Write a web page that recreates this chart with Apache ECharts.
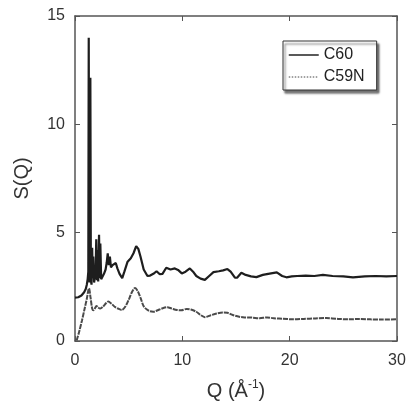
<!DOCTYPE html>
<html>
<head>
<meta charset="utf-8">
<script src="https://cdn.jsdelivr.net/npm/echarts@6/dist/echarts.min.js"></script>
<style>
  html, body { margin: 0; padding: 0; background: #fff; }
  #chart { width: 407px; height: 403px; }
</style>
</head>
<body>
<div id="chart"></div>
<script>
// Structure factor S(Q) of C60 and C59N
const seriesNames = ['C60', 'C59N'];

const c60Points = [
  [0, 2.0], [0.3, 2.02], [0.6, 2.1], [0.85, 2.25], [1.0, 2.4], [1.1, 2.6], [1.18, 2.85],
  [1.24, 3.2], [1.28, 14.0], [1.32, 3.0], [1.36, 2.7], [1.43, 12.15], [1.48, 2.8],
  [1.54, 2.6], [1.6, 4.3], [1.65, 2.9], [1.7, 3.9], [1.78, 2.7], [1.85, 2.62], [1.92, 3.2],
  [1.98, 4.7], [2.04, 2.8], [2.1, 4.2], [2.16, 2.75], [2.24, 4.9], [2.3, 2.9], [2.36, 4.5],
  [2.44, 2.85], [2.55, 2.82], [2.7, 3.1], [2.85, 3.3], [2.95, 3.6], [3.05, 4.05], [3.15, 3.5],
  [3.25, 3.9], [3.35, 3.4], [3.5, 3.5], [3.65, 3.45], [3.8, 3.6], [3.95, 3.35], [4.15, 3.1],
  [4.4, 2.9], [4.6, 3.2], [4.9, 3.66], [5.05, 3.6], [5.2, 3.82], [5.45, 4.05], [5.7, 4.38],
  [5.9, 4.25], [6.1, 3.9], [6.4, 3.3], [6.75, 3.0], [7.0, 3.02], [7.3, 3.1], [7.6, 3.22],
  [7.9, 3.08], [8.15, 3.1], [8.5, 3.38], [8.9, 3.3], [9.3, 3.35], [9.6, 3.28], [9.95, 3.12],
  [10.3, 3.2], [10.7, 3.35], [11.0, 3.2], [11.3, 3.0], [11.7, 2.88], [12.1, 2.82], [12.5, 3.0],
  [12.9, 3.18], [13.4, 3.22], [13.8, 3.26], [14.2, 3.32], [14.5, 3.2], [14.9, 2.92], [15.1, 2.92],
  [15.5, 3.15], [15.9, 3.05], [16.4, 2.98], [16.9, 2.95], [17.5, 3.05], [18.0, 3.1], [18.8, 3.17],
  [19.3, 3.0], [19.7, 2.94], [20.2, 2.98], [20.7, 3.0], [21.5, 3.02], [22.3, 3.0], [23.1, 3.05],
  [24.0, 3.0], [25.0, 2.98], [25.9, 2.94], [27.0, 2.98], [28.0, 3.0], [29.0, 2.98], [30, 3.0]
];

const c59nPoints = [
  [0.15, 0.02], [0.4, 0.45], [0.65, 0.95], [0.9, 1.5], [1.1, 1.95], [1.3, 2.43], [1.45, 2.0],
  [1.6, 1.5], [1.72, 1.42], [1.85, 1.5], [2.0, 1.62], [2.15, 1.55], [2.35, 1.5], [2.6, 1.58],
  [2.9, 1.75], [3.1, 1.82], [3.4, 1.72], [3.7, 1.58], [4.0, 1.5], [4.35, 1.43], [4.7, 1.6],
  [5.0, 1.9], [5.3, 2.25], [5.6, 2.45], [5.85, 2.3], [6.1, 2.0], [6.4, 1.6], [6.7, 1.45],
  [7.0, 1.37], [7.3, 1.35], [7.7, 1.42], [8.1, 1.5], [8.6, 1.56], [9.0, 1.5], [9.5, 1.43],
  [9.9, 1.42], [10.4, 1.48], [10.8, 1.45], [11.3, 1.35], [11.7, 1.2], [12.1, 1.1], [12.6, 1.18],
  [13.2, 1.27], [13.8, 1.31], [14.2, 1.3], [14.7, 1.2], [15.3, 1.12], [15.8, 1.09], [16.5, 1.08],
  [17.2, 1.05], [17.9, 1.09], [18.5, 1.05], [19.3, 1.03], [20.3, 1.0], [21.3, 1.02], [22.4, 1.04],
  [23.4, 1.06], [24.5, 1.02], [25.5, 1.0], [26.5, 1.02], [27.5, 1.0], [28.5, 0.99], [30, 1.0]
];

const xRange = [0, 30, 10];
const yRange = [0, 15, 5];

const FONT = '"Liberation Sans", Arial, sans-serif';
const frameColor = '#555';
const textColor = '#333';

function frameAxis(extra) {
  return Object.assign({
    type: 'value',
    axisLine: { show: true, onZero: false, lineStyle: { color: frameColor, width: 1.5 } },
    axisTick: { show: true, inside: true, length: 5, lineStyle: { color: frameColor, width: 1 } },
    splitLine: { show: false }
  }, extra);
}

const chart = echarts.init(document.getElementById('chart'), null, { renderer: 'canvas' });

chart.setOption({
  backgroundColor: '#fff',
  animation: false,
  grid: { left: 75, top: 16, right: 10, bottom: 62, containLabel: false, outerBoundsMode: 'none' },
  legend: {
    data: [
      { name: seriesNames[0], lineStyle: { width: 1.5, color: '#222', type: 'solid' } },
      { name: seriesNames[1], lineStyle: { width: 1, color: '#444', type: [1.5, 1.5] } }
    ],
    itemStyle: { color: 'rgba(0,0,0,0)', borderWidth: 0, opacity: 0 },
    orient: 'vertical',
    left: 283,
    top: 41,
    padding: [6, 12, 5, 5],
    itemGap: 6,
    itemWidth: 30,
    itemHeight: 14,
    backgroundColor: '#fff',
    borderColor: '#333',
    borderWidth: 1,
    borderRadius: 0,
    shadowColor: 'rgba(0,0,0,0.55)',
    shadowBlur: 2,
    shadowOffsetX: 2,
    shadowOffsetY: 3,
    textStyle: { fontFamily: FONT, fontSize: 16, color: '#222' }
  },
  xAxis: [
    frameAxis({
      position: 'bottom',
      min: xRange[0], max: xRange[1], interval: xRange[2],
      axisLabel: { margin: 12, fontFamily: FONT, fontSize: 16, color: textColor },
      name: 'Q (Å{sup|-1})',
      nameLocation: 'middle',
      nameGap: 38,
      nameTextStyle: {
        fontFamily: FONT, fontSize: 20, color: textColor, lineHeight: 24,
        rich: { sup: { fontFamily: FONT, fontSize: 12, color: textColor, verticalAlign: 'top', lineHeight: 24 } }
      }
    }),
    frameAxis({
      position: 'top',
      min: xRange[0], max: xRange[1], interval: xRange[2],
      axisLabel: { show: false }
    })
  ],
  yAxis: [
    frameAxis({
      position: 'left',
      min: yRange[0], max: yRange[1], interval: yRange[2],
      axisLabel: { margin: 10, fontFamily: FONT, fontSize: 16, color: textColor },
      name: 'S(Q)',
      nameLocation: 'middle',
      nameGap: 43,
      nameTextStyle: { fontFamily: FONT, fontSize: 20, color: textColor }
    }),
    frameAxis({
      position: 'right',
      min: yRange[0], max: yRange[1], interval: yRange[2],
      axisLabel: { show: false }
    })
  ],
  series: [
    {
      name: seriesNames[0],
      type: 'line',
      data: c60Points,
      symbol: 'none',
      smooth: false,
      lineStyle: { color: '#1e1e1e', width: 2.2 },
      itemStyle: { color: '#1e1e1e' },
      z: 3
    },
    {
      name: seriesNames[1],
      type: 'line',
      data: c59nPoints,
      symbol: 'none',
      smooth: 0.3,
      lineStyle: { color: '#4a4a4a', width: 2, type: [5, 1] },
      itemStyle: { color: '#4a4a4a' },
      z: 2
    }
  ]
});
</script>
</body>
</html>
